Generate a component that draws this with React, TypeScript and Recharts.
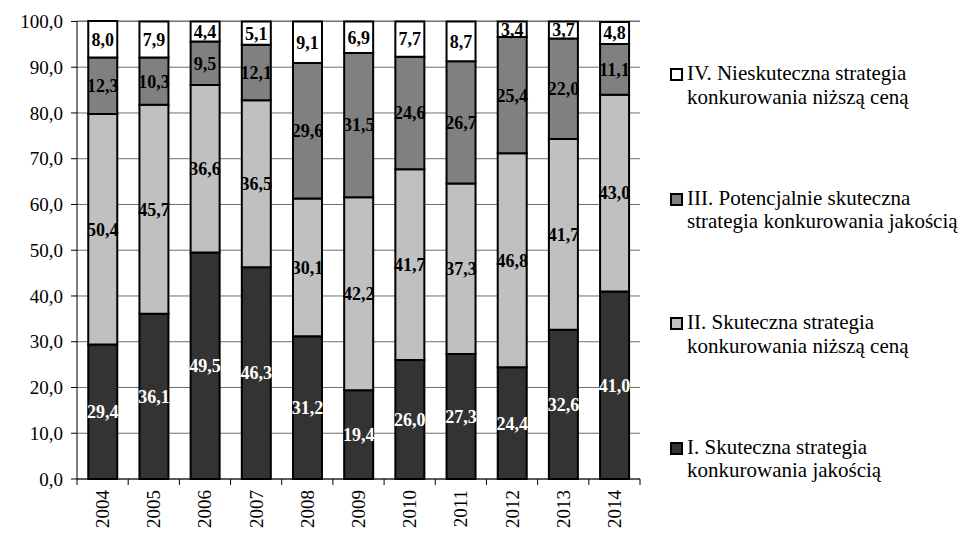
import React from 'react';
import { BarChart, Bar, XAxis, YAxis, CartesianGrid, Legend, LabelList } from 'recharts';

const years = ['2004', '2005', '2006', '2007', '2008', '2009', '2010', '2011', '2012', '2013', '2014'];
const quality = [29.4, 36.1, 49.5, 46.3, 31.2, 19.4, 26.0, 27.3, 24.4, 32.6, 41.0];
const lowPrice = [50.4, 45.7, 36.6, 36.5, 30.1, 42.2, 41.7, 37.3, 46.8, 41.7, 43.0];
const potential = [12.3, 10.3, 9.5, 12.1, 29.6, 31.5, 24.6, 26.7, 25.4, 22.0, 11.1];
const ineffective = [8.0, 7.9, 4.4, 5.1, 9.1, 6.9, 7.7, 8.7, 3.4, 3.7, 4.8];
const yTicks = [0, 10, 20, 30, 40, 50, 60, 70, 80, 90, 100];

const seriesNames = {
  s1: 'I. Skuteczna strategia\nkonkurowania jakością',
  s2: 'II. Skuteczna strategia\nkonkurowania niższą ceną',
  s3: 'III. Potencjalnie skuteczna\nstrategia konkurowania jakością',
  s4: 'IV. Nieskuteczna strategia\nkonkurowania niższą ceną',
};

const data = years.map((year, i) => ({
  year,
  s1: quality[i],
  s2: lowPrice[i],
  s3: potential[i],
  s4: ineffective[i],
}));

const FONT = 'Liberation Serif';
const fmt = (v: any) => Number(v).toFixed(1).replace('.', ',');

const XTick = (props: any) => {
  const { x, y, payload, index } = props;
  const half = payload && payload.offset ? payload.offset : 25.6;
  return (
    <g>
      <line x1={x - half} x2={x - half} y1={y} y2={y + 6} stroke="#000" strokeWidth={1} />
      {index === years.length - 1 && (
        <line x1={x + half} x2={x + half} y1={y} y2={y + 6} stroke="#000" strokeWidth={1} />
      )}
      <text
        x={x}
        y={y + 11}
        transform={`rotate(-90, ${x}, ${y + 11})`}
        textAnchor="end"
        dominantBaseline="central"
        fontFamily={FONT}
        fontSize={19}
        fill="#000"
      >
        {payload.value}
      </text>
    </g>
  );
};

const LegendContent = (props: any) => {
  const items = [...(props.payload || [])].reverse();
  return (
    <div style={{ fontFamily: FONT, fontSize: 21, color: '#000' }}>
      {items.map((it: any, i: number) => (
        <div key={i} style={{ display: 'flex', alignItems: 'flex-start', marginBottom: i < items.length - 1 ? 77.5 : 0 }}>
          <div
            style={{
              width: 9,
              height: 9,
              border: '2px solid #000',
              background: it.color,
              marginTop: 6,
              marginRight: 4,
              flexShrink: 0,
            }}
          />
          <div style={{ whiteSpace: 'pre-line', lineHeight: '23.5px' }}>{it.value}</div>
        </div>
      ))}
    </div>
  );
};

const labelStyle = { fontWeight: 'bold', fontSize: 18, fontFamily: FONT };

export default function App() {
  return (
    <div>
      <style>{'body{margin:0}'}</style>
      <BarChart
        width={965}
        height={534}
        data={data}
        margin={{ top: 21, right: 325, bottom: 0, left: 0 }}
        barCategoryGap="22%"
      >
        <CartesianGrid vertical={false} stroke="#6e6e6e" />
        <XAxis
          dataKey="year"
          height={55}
          tickLine={false}
          tickSize={0}
          tickMargin={0}
          axisLine={{ stroke: '#000' }}
          tick={<XTick />}
          interval={0}
        />
        <YAxis
          domain={[0, 100]}
          ticks={yTicks}
          width={77}
          tickFormatter={fmt}
          tickSize={6}
          tickMargin={8}
          axisLine={{ stroke: '#000' }}
          tickLine={{ stroke: '#000' }}
          tick={{ fill: '#000', fontSize: 19, fontFamily: FONT }}
          interval={0}
        />
        <YAxis yAxisId="frame" orientation="right" width={0} domain={[0, 100]} tick={false} tickLine={false} axisLine={{ stroke: '#a6a6a6' }} />
        <Legend
          layout="vertical"
          align="center"
          verticalAlign="middle"
          wrapperStyle={{ left: 670, top: 62, width: 300 }}
          content={<LegendContent />}
        />
        <Bar dataKey="s1" name={seriesNames.s1} stackId="a" fill="#333333" stroke="#000" strokeWidth={2} isAnimationActive={false}>
          <LabelList dataKey="s1" position="center" formatter={fmt} fill="#fff" style={labelStyle} />
        </Bar>
        <Bar dataKey="s2" name={seriesNames.s2} stackId="a" fill="#c0c0c0" stroke="#000" strokeWidth={2} isAnimationActive={false}>
          <LabelList dataKey="s2" position="center" formatter={fmt} fill="#000" style={labelStyle} />
        </Bar>
        <Bar dataKey="s3" name={seriesNames.s3} stackId="a" fill="#808080" stroke="#000" strokeWidth={2} isAnimationActive={false}>
          <LabelList dataKey="s3" position="center" formatter={fmt} fill="#000" style={labelStyle} />
        </Bar>
        <Bar dataKey="s4" name={seriesNames.s4} stackId="a" fill="#ffffff" stroke="#000" strokeWidth={2} isAnimationActive={false}>
          <LabelList dataKey="s4" position="center" formatter={fmt} fill="#000" style={labelStyle} />
        </Bar>
      </BarChart>
    </div>
  );
}
